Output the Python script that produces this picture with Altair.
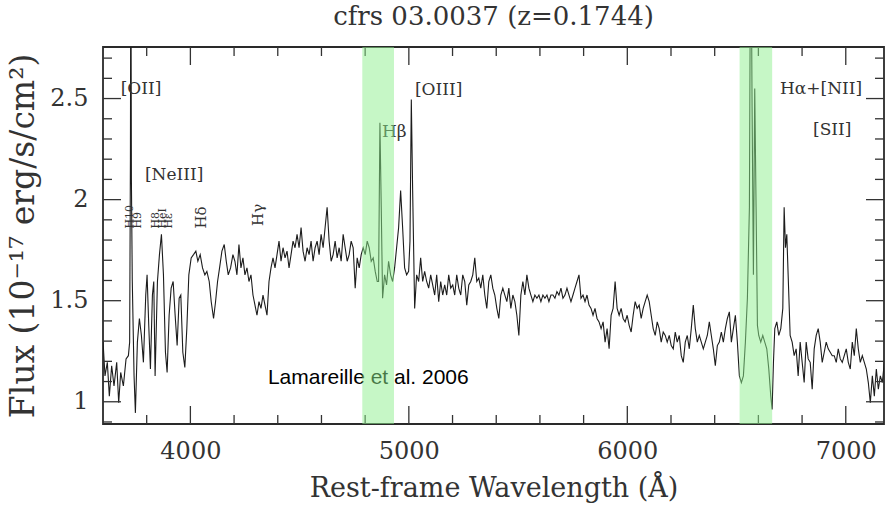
import altair as alt
import pandas as pd

SERIF = "DejaVu Serif"
SANS = "Liberation Sans"

# ---------------- spectrum (rest-frame wavelength in Angstrom, flux in 1e-17 erg/s/cm2) -----------
wl = [
    3600.0, 3609.1, 3619.8, 3629.0, 3639.7, 3650.4, 3662.7, 3671.8, 3681.0, 3693.2,
    3705.5, 3716.2, 3722.0, 3725.5, 3727.5, 3730.0, 3734.0, 3742.2, 3748.3, 3757.4,
    3766.6, 3775.8, 3785.0, 3795.7, 3801.8, 3809.4, 3817.1, 3826.2, 3832.4, 3838.5,
    3849.2, 3858.4, 3867.5, 3876.7, 3885.9, 3893.5, 3902.7, 3911.9, 3921.1, 3930.2,
    3939.4, 3948.6, 3956.2, 3965.4, 3974.6, 3983.7, 3992.9, 4003.6, 4014.3, 4025.0,
    4034.2, 4044.9, 4055.6, 4066.3, 4075.5, 4086.2, 4095.4, 4106.1, 4115.2, 4124.4,
    4133.6, 4144.3, 4155.0, 4164.2, 4173.3, 4184.0, 4194.7, 4203.9, 4213.1, 4222.3,
    4231.4, 4240.6, 4249.8, 4259.0, 4268.1, 4277.3, 4286.5, 4295.7, 4304.8, 4314.0,
    4323.2, 4332.4, 4341.5, 4350.7, 4359.9, 4369.0, 4378.2, 4387.4, 4396.6, 4405.7,
    4414.9, 4424.1, 4433.3, 4442.4, 4451.6, 4460.8, 4470.0, 4479.1, 4488.3, 4497.5,
    4506.7, 4515.8, 4525.0, 4534.2, 4543.4, 4552.5, 4561.7, 4570.9, 4580.1, 4589.2,
    4598.4, 4607.6, 4616.7, 4625.9, 4635.1, 4644.3, 4653.4, 4662.6, 4671.8, 4681.0,
    4690.1, 4699.3, 4708.5, 4717.7, 4726.8, 4736.0, 4745.2, 4754.4, 4763.5, 4772.7,
    4781.9, 4791.1, 4800.2, 4809.4, 4818.6, 4827.8, 4836.9, 4846.1, 4855.3,
    4861.4, 4867.6, 4873.7, 4879.8, 4889.0, 4898.1, 4907.3, 4916.5, 4925.7, 4934.8,
    4944.0, 4953.2, 4962.4, 4971.5, 4980.7, 4989.9, 4999.0, 5005.2, 5011.3, 5017.4,
    5026.6, 5035.7, 5044.9, 5054.1, 5063.3, 5072.4, 5081.6, 5090.8, 5100.0, 5109.1,
    5118.3, 5127.5, 5136.7, 5145.8, 5155.0, 5164.2, 5173.4, 5182.5, 5191.7, 5200.9,
    5210.0, 5219.2, 5228.4, 5237.6, 5246.7, 5255.9, 5265.1, 5274.3, 5283.4, 5292.6,
    5301.8, 5311.0, 5320.1, 5329.3, 5338.5, 5347.7, 5356.8, 5366.0, 5375.2, 5384.3,
    5393.5, 5402.7, 5411.9, 5421.0, 5430.2, 5439.4, 5448.6, 5457.7, 5466.9, 5476.1,
    5485.3, 5494.4, 5503.6, 5512.8, 5522.0, 5531.1, 5540.3, 5549.5, 5558.7, 5567.8,
    5577.0, 5586.2, 5595.4, 5604.5, 5613.7, 5622.9, 5632.1, 5641.2, 5650.4, 5659.6,
    5668.7, 5677.9, 5687.1, 5696.3, 5705.4, 5714.6, 5723.8, 5733.0, 5742.1, 5751.3,
    5760.5, 5769.7, 5778.8, 5788.0, 5797.2, 5806.4, 5815.5, 5824.7, 5833.9, 5843.1,
    5852.2, 5861.4, 5870.6,
    5880.0, 5889.2, 5898.3, 5907.5, 5916.7, 5925.9, 5935.0, 5944.2, 5953.4, 5962.6,
    5971.7, 5980.9, 5990.1, 5999.3, 6008.4, 6017.6, 6026.8, 6036.0, 6045.1, 6054.3,
    6063.5, 6072.7, 6081.8, 6091.0, 6100.2, 6109.4, 6118.5, 6127.7, 6136.9, 6146.0,
    6155.2, 6164.4, 6173.6, 6182.7, 6191.9, 6201.1, 6210.3, 6219.4, 6228.6, 6237.8,
    6247.0, 6256.1, 6265.3, 6274.5, 6283.7, 6292.8, 6302.0, 6311.2, 6320.4, 6329.5,
    6338.7, 6347.9, 6357.0, 6366.2, 6375.4, 6384.6, 6393.7, 6402.9, 6412.1, 6421.3,
    6430.4, 6439.6, 6448.8, 6458.0, 6467.1, 6476.3, 6485.5, 6494.7, 6503.8, 6513.0,
    6522.2, 6531.4, 6540.5, 6549.7, 6558.9, 6565.0, 6571.1, 6577.2, 6583.3, 6589.5,
    6595.6, 6601.7, 6610.9, 6620.1, 6629.2, 6638.4, 6647.6, 6656.7, 6662.8, 6669.0,
    6675.1, 6684.3, 6693.4, 6702.6, 6711.8, 6717.9, 6724.0, 6730.1, 6736.2, 6745.4,
    6754.6, 6763.8, 6772.9, 6782.1, 6791.3, 6800.5, 6809.6, 6818.8, 6828.0, 6837.2,
    6846.3, 6855.5, 6864.7, 6873.9, 6883.0, 6892.2, 6901.4, 6910.5, 6919.7, 6928.9,
    6938.1, 6947.2, 6956.4, 6965.6, 6974.8, 6983.9, 6993.1, 7002.3, 7011.5, 7020.6,
    7029.8, 7039.0, 7048.2, 7057.3, 7066.5, 7075.7, 7084.9, 7094.0, 7103.2, 7112.4,
    7121.6, 7130.7, 7139.9, 7149.1, 7158.3, 7167.4, 7176.6,
]

flux = [
    1.300, 1.128, 1.195, 1.028, 1.178, 1.078, 1.195, 0.995, 1.145, 1.078,
    1.212, 1.228, 1.295, 2.200, 3.400, 2.100, 1.600, 1.128, 0.945, 1.295,
    1.412, 1.328, 1.195, 1.528, 1.628, 1.378, 1.162, 1.528, 1.595, 1.128,
    1.595, 1.728, 1.828, 1.628, 1.245, 1.145, 1.428, 1.562, 1.595, 1.428,
    1.278, 1.512, 1.528, 1.245, 1.170, 1.362, 1.628, 1.712, 1.728, 1.745,
    1.695, 1.728, 1.662, 1.628, 1.645, 1.595, 1.495, 1.412, 1.495, 1.595,
    1.662, 1.745, 1.778, 1.695, 1.628, 1.662, 1.728, 1.695, 1.628, 1.778,
    1.662, 1.712, 1.628, 1.662, 1.595, 1.628, 1.528, 1.478, 1.428, 1.495,
    1.462, 1.528, 1.478, 1.428, 1.595, 1.662, 1.712, 1.662, 1.728, 1.795,
    1.695, 1.762, 1.712, 1.745, 1.662, 1.728, 1.795, 1.762, 1.828, 1.762,
    1.862, 1.745, 1.695, 1.762, 1.728, 1.795, 1.695, 1.762, 1.795, 1.728,
    1.828, 1.762, 1.862, 1.962, 1.795, 1.695, 1.728, 1.795, 1.712, 1.762,
    1.695, 1.828, 1.762, 1.695, 1.728, 1.795, 1.762, 1.562, 1.712, 1.662,
    1.728, 1.762, 1.728, 1.795, 1.762, 1.695, 1.712, 1.645, 1.595,
    1.595, 2.380, 1.962, 1.512, 1.628, 1.578, 1.695, 1.628, 1.595, 1.662,
    1.762, 1.862, 2.045, 1.862, 1.662, 1.628, 1.645, 1.795, 2.495, 2.045,
    1.462, 1.628, 1.595, 1.712, 1.595, 1.645, 1.595, 1.562, 1.628, 1.578,
    1.528, 1.628, 1.495, 1.595, 1.528, 1.578, 1.528, 1.628, 1.562, 1.578,
    1.528, 1.628, 1.562, 1.528, 1.628, 1.595, 1.478, 1.578, 1.595, 1.628,
    1.712, 1.595, 1.612, 1.562, 1.628, 1.528, 1.462, 1.595, 1.628, 1.562,
    1.528, 1.462, 1.412, 1.528, 1.562, 1.528, 1.495, 1.562, 1.462, 1.528,
    1.495, 1.428, 1.328, 1.528, 1.595, 1.528, 1.628, 1.562, 1.528, 1.495,
    1.528, 1.512, 1.528, 1.495, 1.528, 1.512, 1.528, 1.495, 1.528, 1.528,
    1.512, 1.545, 1.528, 1.562, 1.512, 1.528, 1.562, 1.528, 1.495, 1.528,
    1.562, 1.595, 1.628, 1.512, 1.528, 1.495, 1.528, 1.478, 1.462, 1.428,
    1.462, 1.412, 1.395,
    1.362, 1.395, 1.295, 1.362, 1.262, 1.428, 1.462, 1.595, 1.462, 1.428,
    1.462, 1.412, 1.395, 1.428, 1.378, 1.345, 1.428, 1.495, 1.462, 1.478,
    1.412, 1.462, 1.495, 1.528, 1.495, 1.428, 1.362, 1.328, 1.395, 1.362,
    1.295, 1.345, 1.328, 1.295, 1.328, 1.278, 1.262, 1.345, 1.295, 1.328,
    1.228, 1.195, 1.295, 1.328, 1.262, 1.362, 1.478, 1.362, 1.295, 1.328,
    1.295, 1.262, 1.295, 1.328, 1.395, 1.328, 1.262, 1.178, 1.278, 1.295,
    1.345, 1.295, 1.362, 1.412, 1.445, 1.295, 1.362, 1.428, 1.295, 1.128,
    1.095, 1.128, 1.295, 1.512, 1.962, 3.600, 2.462, 1.628, 2.550, 1.962,
    1.378, 1.328, 1.295, 1.328, 1.295, 1.262, 1.162, 1.028, 0.962, 1.195,
    1.362, 1.395, 1.328, 1.362, 1.462, 1.962, 1.762, 1.828, 1.628, 1.328,
    1.295, 1.228, 1.262, 1.128, 1.295, 1.195, 1.095, 1.295, 1.212, 1.195,
    1.062, 1.262, 1.328, 1.362, 1.295, 1.195, 1.245, 1.295, 1.262, 1.245,
    1.228, 1.228, 1.195, 1.262, 1.212, 1.195, 1.228, 1.262, 1.195, 1.162,
    1.295, 1.228, 1.362, 1.262, 1.195, 1.228, 1.195, 1.162, 1.095, 0.995,
    1.128, 1.028, 1.162, 1.062, 1.128, 1.095, 1.195,
]

# ---------------- highlighted wavelength windows -----------------
band_start = [4787, 6514]
band_end = [4932, 6663]

# ---------------- axis ranges and tick positions -----------------
x_range = [3600, 7175]
y_range = [0.89, 2.755]
x_major = [4000, 5000, 6000, 7000]
x_minor = [3800, 4200, 4400, 4600, 4800, 5200, 5400, 5600, 5800, 6200, 6400, 6600, 6800]
y_major = [1.0, 1.5, 2.0, 2.5]
y_minor = [0.9, 1.1, 1.2, 1.3, 1.4, 1.6, 1.7, 1.8, 1.9, 2.1, 2.2, 2.3, 2.4, 2.6, 2.7]

# ---------------- line labels -----------------
ann_text = ["[OII]", "[NeIII]", "Hβ", "[OIII]", "Hα+[NII]", "[SII]"]
ann_wl = [3681, 3792, 4877, 5028, 6699, 6850]
ann_flux = [2.545, 2.120, 2.333, 2.541, 2.549, 2.343]

small_rot_text = ["H10", "H9", "H8", "HeI", "Hε"]
small_rot_wl = [3724, 3760, 3843, 3875, 3903]
small_rot_flux = [1.857, 1.857, 1.857, 1.857, 1.857]

rot_text = ["Hδ", "Hγ"]
rot_wl = [4049, 4310]
rot_flux = [1.857, 1.870]

credit_text = ["Lamareille et al. 2006"]
credit_wl = [4355]
credit_flux = [1.120]

# ---------------- chart -----------------
W, H = 781, 377
xs = alt.Scale(domain=x_range, nice=False, zero=False)
ys = alt.Scale(domain=y_range, nice=False, zero=False)

px_x = (x_range[1] - x_range[0]) / W
px_y = (y_range[1] - y_range[0]) / H

spec_df = pd.DataFrame({"wl": wl, "flux": flux})
band_df = pd.DataFrame({"wl": band_start, "b": band_end})
ann_df = pd.DataFrame({"t": ann_text, "wl": ann_wl, "flux": ann_flux})
srot_df = pd.DataFrame({"t": small_rot_text, "wl": small_rot_wl, "flux": small_rot_flux})
rot_df = pd.DataFrame({"t": rot_text, "wl": rot_wl, "flux": rot_flux})
credit_df = pd.DataFrame({"t": credit_text, "wl": credit_wl, "flux": credit_flux})

# inward frame ticks as two-point line segments (one "seg" id per tick)
pts = []
sid = 0
def add(x1, y1, x2, y2):
    global sid
    pts.append({"seg": sid, "k": 0, "wl": x1, "flux": y1})
    pts.append({"seg": sid, "k": 1, "wl": x2, "flux": y2})
    sid += 1

for vals, npx in [(x_major, 18), (x_minor, 9)]:
    for v in vals:
        add(v, y_range[0], v, y_range[0] + npx * px_y)
        add(v, y_range[1], v, y_range[1] - npx * px_y)
for vals, npx in [(y_major, 18), (y_minor, 9)]:
    for v in vals:
        add(x_range[0], v, x_range[0] + npx * px_x, v)
        add(x_range[1], v, x_range[1] - npx * px_x, v)
tick_df = pd.DataFrame(pts)

X_AXIS = alt.Axis(
    values=x_major, format="d", title="Rest-frame Wavelength (Å)",
    ticks=False, domain=False, grid=False,
    labelFont=SERIF, labelFontSize=24, labelColor="#333", labelPadding=15,
    titleFont=SERIF, titleFontSize=27, titleFontWeight="normal", titleColor="#333",
    titlePadding=12)
Y_AXIS = alt.Axis(
    values=y_major, format="~g", title="Flux (10⁻¹⁷ erg/s/cm²)",
    ticks=False, domain=False, grid=False,
    labelFont=SERIF, labelFontSize=24, labelColor="#333", labelPadding=15,
    titleFont=SERIF, titleFontSize=33, titleFontWeight="normal", titleColor="#333",
    titlePadding=9)

def X(field="wl"):
    return alt.X(f"{field}:Q", scale=xs, axis=X_AXIS)

def Y(field="flux"):
    return alt.Y(f"{field}:Q", scale=ys, axis=Y_AXIS)

line = alt.Chart(spec_df).mark_line(color="#1c1c1c", strokeWidth=1.1, clip=True).encode(x=X(), y=Y())

ticks = alt.Chart(tick_df).mark_line(color="#333", strokeWidth=1.3).encode(
    x=X(), y=Y(), detail="seg:N", order="k:Q")

ann = alt.Chart(ann_df).mark_text(font=SERIF, fontSize=17, color="#333", align="left", baseline="middle").encode(
    x=X(), y=Y(), text="t:N")
srot = alt.Chart(srot_df).mark_text(font=SERIF, fontSize=11, color="#333", align="left", baseline="middle", angle=270).encode(
    x=X(), y=Y(), text="t:N")
rot = alt.Chart(rot_df).mark_text(font=SERIF, fontSize=15, color="#333", align="left", baseline="middle", angle=270).encode(
    x=X(), y=Y(), text="t:N")
credit = alt.Chart(credit_df).mark_text(font=SANS, fontSize=21, color="#000", align="left", baseline="middle").encode(
    x=X(), y=Y(), text="t:N")

bands = alt.Chart(band_df).mark_rect(color="#8ef08e", opacity=0.5).encode(x=X(), x2="b:Q")

chart = alt.layer(line, ticks, ann, srot, rot, credit, bands).properties(
    width=W, height=H,
    title=alt.Title("cfrs 03.0037  (z=0.1744)", font=SERIF, fontSize=26, fontWeight="normal",
                    color="#333", anchor="middle", offset=14),
    autosize=alt.AutoSizeParams(type="none"),
    padding={"left": 103, "top": 47, "right": 1, "bottom": 84},
    background="white",
).configure_view(stroke="#2a2a2a", strokeWidth=1.8)

chart.save("out.html", embed_options={"renderer": "svg", "actions": False})
